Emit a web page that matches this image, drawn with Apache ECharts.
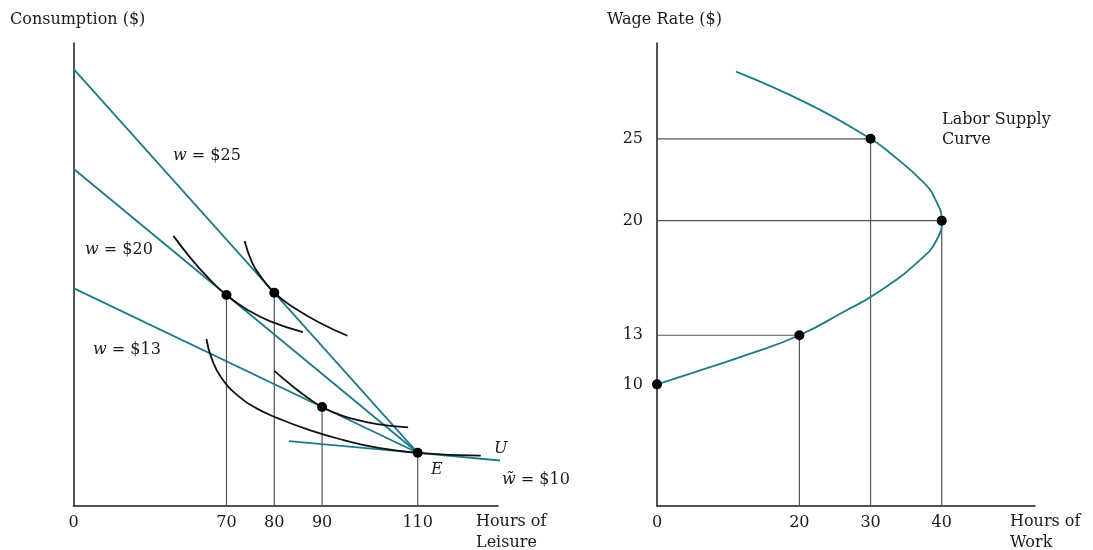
<!DOCTYPE html>
<html><head><meta charset="utf-8">
<script src="https://cdn.jsdelivr.net/npm/echarts@6/dist/echarts.min.js"></script>
<style>html,body{margin:0;padding:0;background:#fff}#c{width:1093px;height:550px}</style>
</head><body><div id="c"></div>
<script>
// ---------- Left panel: leisure / consumption (schematic, broken axis) ----------
const leisureAxisBreak = 38;            // broken-axis origin, labelled "0"
const leisureTicks = [70, 80, 90, 110];
const budgetW25 = [[38, 94.4], [110, 11.4]];
const budgetW20 = [[38, 72.8], [110, 11.4]];
const budgetW13 = [[38, 47.0], [110, 11.4]];
const budgetW10 = [[83.1, 13.9], [110, 11.4], [127.5, 9.7]];
const indiff1 = [[58.9, 58.3], [62.5, 53.5], [66.1, 49.3], [70, 45.5], [74.1, 42.5], [79.2, 39.8], [86.0, 37.5]];
const indiff2 = [[73.8, 57.2], [75.3, 52.7], [77.1, 49.6], [80, 46.0], [84.4, 42.6], [89.7, 39.4], [95.3, 36.7]];
const indiff3 = [[80, 29.1], [83.7, 25.9], [87, 23.3], [90, 21.3], [93, 19.9], [96.2, 18.8], [101.5, 17.6], [108.0, 16.9]];
const indiffU = [[65.8, 36.0], [66.9, 31.8], [69.0, 27.5], [72.7, 23.5], [76.3, 21.0], [80.7, 18.9], [87.4, 16.3], [94.3, 14.2], [101.5, 12.5], [110, 11.4], [123.2, 10.8]];
const choiceLeisure = [70, 80, 90, 110];
const choiceConsumption = [45.5, 46.0, 21.3, 11.4];

// ---------- Right panel: labor supply ----------
const workTicks = [0, 20, 30, 40];
const wageTicks = [10, 13, 20, 25];
const supplyCurve = [[0, 10], [5.0, 10.7], [12.6, 11.8], [20, 13], [26.5, 14.5], [30.6, 15.5], [36.7, 17.5],
  [39.5, 19.0], [40, 20], [39.2, 21.2], [37.5, 22.3], [32.4, 24.25], [30, 25], [21.4, 27.1], [11.1, 29.1]];
const supplyHours = [0, 20, 30, 40];
const supplyWages = [10, 13, 25, 20];

const TEAL = '#1d7b88', INK = '#111', GUIDE = '#555', AX = '#1a1a1a';
const FONT = '"DejaVu Serif", "Liberation Serif", serif';
const WAGE_MIN = 2.57;

const chart = echarts.init(document.getElementById('c'), null, {renderer: 'canvas'});

function lineS(data, color, width, xi, smooth, extra) {
  return Object.assign({
    type: 'line', xAxisIndex: xi, yAxisIndex: xi, data: data, showSymbol: false, symbol: 'none',
    smooth: smooth, smoothMonotone: null, silent: true, animation: false,
    lineStyle: {color: color, width: width}, z: 3
  }, extra || {});
}

const series = [];
// guide lines left
choiceLeisure.forEach((h, i) => {
  series.push(lineS([[h, choiceConsumption[i]], [h, 0]], GUIDE, 1.2, 0, false, {z: 2}));
});
// budget lines
[budgetW25, budgetW20, budgetW13].forEach(d => series.push(lineS(d, TEAL, 1.8, 0, false)));
series.push(lineS(budgetW10, TEAL, 1.8, 0, false, {clip: false}));
// indifference curves
[indiff1, indiff2, indiff3].forEach(d => series.push(lineS(d, INK, 1.8, 0, 0.5, {z: 4})));
series.push(lineS(indiffU, INK, 1.8, 0, 0.5, {z: 4, clip: false}));
series.push({
  type: 'scatter', xAxisIndex: 0, yAxisIndex: 0, silent: true, animation: false, z: 6,
  data: choiceLeisure.map((h, i) => [h, choiceConsumption[i]]),
  symbolSize: 10, itemStyle: {color: '#000', opacity: 1}
});
// guide lines right
supplyHours.forEach((h, i) => {
  const w = supplyWages[i];
  if (h === 0) return;
  series.push(lineS([[0, w], [h, w]], GUIDE, 1.2, 1, false, {z: 2}));
  series.push(lineS([[h, w], [h, WAGE_MIN]], GUIDE, 1.2, 1, false, {z: 2}));
});
series.push(lineS(supplyCurve, TEAL, 1.8, 1, 0.5, {clip: false}));
series.push({
  type: 'scatter', xAxisIndex: 1, yAxisIndex: 1, silent: true, animation: false, z: 6,
  data: supplyHours.map((h, i) => [h, supplyWages[i]]),
  symbolSize: 10, itemStyle: {color: '#000', opacity: 1}
});

function axisBase(extra) {
  return Object.assign({
    type: 'value',
    axisLine: {show: true, onZero: false, lineStyle: {color: AX, width: 1.5}},
    axisTick: {show: false}, splitLine: {show: false}
  }, extra);
}
const labelStyle = {color: AX, fontFamily: FONT, fontSize: 16};

function txt(x, y, text, extra) {
  return {
    type: 'text', x: x, y: y, silent: true,
    style: Object.assign({
      text: text, fill: AX, fontFamily: FONT, fontSize: 16, verticalAlign: 'middle', align: 'left',
      rich: {i: {fontStyle: 'italic', fontFamily: FONT, fontSize: 16, fill: AX}}
    }, extra || {})
  };
}

chart.setOption({
  backgroundColor: '#fff',
  animation: false,
  grid: [
    {left: 73.5, top: 43, width: 424.5, height: 462.5},
    {left: 657, top: 43, width: 378, height: 463}
  ],
  xAxis: [
    axisBase({gridIndex: 0, min: leisureAxisBreak, max: 126.8,
      axisLabel: Object.assign({customValues: [leisureAxisBreak].concat(leisureTicks), margin: 9,
        formatter: v => (v === leisureAxisBreak ? '0' : String(v))}, labelStyle)}),
    axisBase({gridIndex: 1, min: 0, max: 53.1,
      axisLabel: Object.assign({customValues: workTicks, margin: 9}, labelStyle)})
  ],
  yAxis: [
    axisBase({gridIndex: 0, min: 0, max: 100, axisLabel: {show: false}}),
    axisBase({gridIndex: 1, min: WAGE_MIN, max: 30.85,
      axisLabel: Object.assign({customValues: wageTicks, margin: 14}, labelStyle)})
  ],
  series: series,
  graphic: [
    txt(10, 20, 'Consumption ($)'),
    txt(607, 20, 'Wage Rate ($)'),
    txt(173, 156, '{i|w} = $25'),
    txt(85, 250, '{i|w} = $20'),
    txt(93, 350, '{i|w} = $13'),
    txt(494, 449, '{i|U}'),
    txt(431, 470, '{i|E}'),
    txt(502, 480, '{i|w\u0303} = $10'),
    txt(476, 522, 'Hours of'),
    txt(476, 543, 'Leisure'),
    txt(1010, 522, 'Hours of'),
    txt(1010, 543, 'Work'),
    txt(942, 120, 'Labor Supply'),
    txt(942, 140, 'Curve')
  ]
});
</script></body></html>
